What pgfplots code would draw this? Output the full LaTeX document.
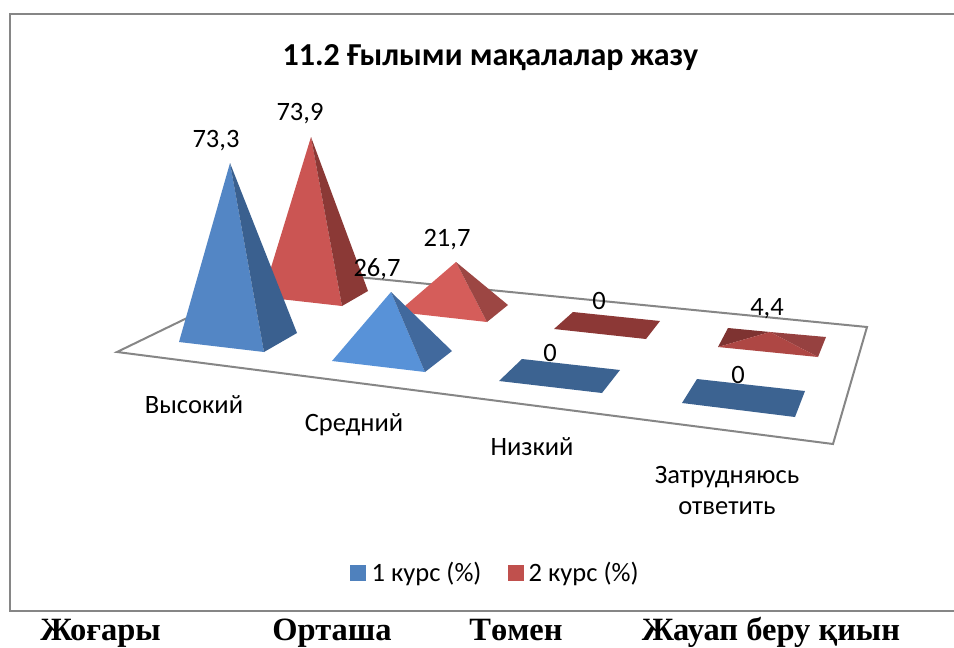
\documentclass[border=0pt]{standalone}
\usepackage{fontspec}
\setmainfont{Carlito}
\newfontfamily\serifb{Liberation Serif}
\usepackage{pgfplots}
\pgfplotsset{compat=1.18}
\definecolor{bfront}{HTML}{5386C5}
\definecolor{bside}{HTML}{3A608F}
\definecolor{rfront}{HTML}{CB5553}
\definecolor{rside}{HTML}{8B3936}
\definecolor{bfronttwo}{HTML}{5892D8}
\definecolor{bsidetwo}{HTML}{41699D}
\definecolor{rfronttwo}{HTML}{D55D5A}
\definecolor{rsidetwo}{HTML}{9C4643}
\definecolor{bflat}{HTML}{3C6391}
\definecolor{rflat}{HTML}{8C3836}
\definecolor{legb}{HTML}{4F81BD}
\definecolor{legr}{HTML}{C0504D}
\definecolor{gridg}{HTML}{868686}
\begin{document}
\begin{tikzpicture}
\path[use as bounding box] (0,0) rectangle (954pt,648pt);
\begin{axis}[
  at={(0,0)},anchor=south west,
  scale only axis,width=954pt,height=648pt,
  xmin=0,xmax=954,ymin=0,ymax=648,y dir=reverse,
  hide axis,clip=false,
  legend columns=2,
  legend style={draw=none,fill=none,at={(axis cs:495.5,573)},anchor=center,
    font=\fontsize{26.5}{30}\selectfont,
    /tikz/every even column/.append style={column sep=24pt},
    inner sep=0pt,
    legend cell align=left},
  legend image code/.code={\fill[#1] (0pt,-7.5pt) rectangle (15pt,7.5pt);\path[draw=none,fill=none] (0pt,0pt)--(19pt,0pt);},
]
% chart frame
\addplot[draw=gridg,line width=2pt,forget plot] coordinates {(954,13.5) (9.5,13.5) (9.5,611) (954,611)};
% floor
\addplot[draw=gridg,fill=white,line width=2pt,forget plot] coordinates {(117,352) (286,270) (867,327) (833,444)} --cycle;
% red 1
\addplot[fill=rfront,draw=none,forget plot] coordinates {(311,137) (262,297) (342,306)} --cycle;
\addplot[fill=rside,draw=none,forget plot] coordinates {(311,137) (342,306) (368,291)} --cycle;
% blue 1
\addplot[fill=bfront,draw=none,forget plot] coordinates {(230,163) (179,342) (264,352)} --cycle;
\addplot[fill=bside,draw=none,forget plot] coordinates {(230,163) (264,352) (297,333)} --cycle;
% red 2
\addplot[fill=rfronttwo,draw=none,forget plot] coordinates {(456,262) (398,312) (487,322)} --cycle;
\addplot[fill=rsidetwo,draw=none,forget plot] coordinates {(456,262) (487,322) (508,305)} --cycle;
% blue 2
\addplot[fill=bfronttwo,draw=none,forget plot] coordinates {(391,292) (332,361) (425,372)} --cycle;
\addplot[fill=bsidetwo,draw=none,forget plot] coordinates {(391,292) (425,372) (452,351)} --cycle;
% flats
\addplot[fill=rflat,draw=none,forget plot] coordinates {(573,312) (660,321) (646,339) (554,329)} --cycle;
\addplot[fill=bflat,draw=none,forget plot] coordinates {(522,359) (620,370) (602,393) (499,381)} --cycle;
\addplot[fill=bflat,draw=none,forget plot] coordinates {(697,379) (805,391) (795,417) (682,403)} --cycle;
% flat red pyramid 4,4
\addplot[fill={rgb,255:red,126;green,51;blue,49},draw=none,forget plot] coordinates {(718,347) (728,328) (770,332)} --cycle;
\addplot[fill={rgb,255:red,150;green,65;blue,64},draw=none,forget plot] coordinates {(770,332) (826,337) (818,357)} --cycle;
\addplot[fill={rgb,255:red,174;green,71;blue,68},draw=none,forget plot] coordinates {(718,347) (770,332) (818,357)} --cycle;
\addlegendimage{legb,fill=legb}
\addlegendentry{1 курс (\%)}
\addlegendimage{legr,fill=legr}
\addlegendentry{2 курс (\%)}
% labels
\node[font=\fontsize{32}{36}\selectfont\bfseries] at (axis cs:490.5,58) {11.2 Ғылыми мақалалар жазу};
\foreach \x/\y/\t in {216/141/{73,3},300/114/{73,9},377/269/{26,7},447/240/{21,7},599/301/0,550/353/0,767/309/{4,4},738/375/0}{
  \edef\tmp{\noexpand\node[font=\noexpand\fontsize{26.5}{30}\noexpand\selectfont] at (axis cs:\x,\y) {\t};}\tmp
}
\node[font=\fontsize{26.5}{30}\selectfont] at (axis cs:194,405) {Высокий};
\node[font=\fontsize{26.5}{30}\selectfont] at (axis cs:354,425) {Средний};
\node[font=\fontsize{26.5}{30}\selectfont] at (axis cs:532,447) {Низкий};
\node[font=\fontsize{26.5}{30}\selectfont] at (axis cs:727,477) {Затрудняюсь};
\node[font=\fontsize{26.5}{30}\selectfont] at (axis cs:727,508) {ответить};
\node[font=\fontsize{32.5}{33}\selectfont\serifb\bfseries,anchor=base,inner sep=0pt] at (axis cs:100.5,640.5) {Жоғары};
\node[font=\fontsize{32.5}{33}\selectfont\serifb\bfseries,anchor=base,inner sep=0pt] at (axis cs:332,640.5) {Орташа};
\node[font=\fontsize{32.5}{33}\selectfont\serifb\bfseries,anchor=base,inner sep=0pt] at (axis cs:516,640.5) {Төмен};
\node[font=\fontsize{32.5}{33}\selectfont\serifb\bfseries,anchor=base,inner sep=0pt] at (axis cs:771,640.5) {Жауап беру қиын};
\end{axis}
\end{tikzpicture}
\end{document}
